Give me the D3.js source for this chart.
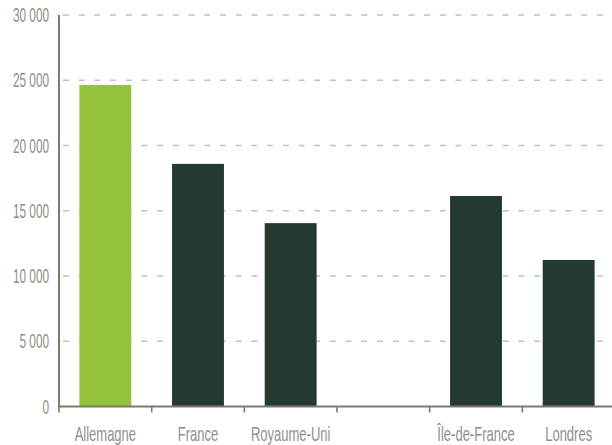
<!DOCTYPE html>
<html>
<head>
<meta charset="utf-8">
<script src="https://cdn.jsdelivr.net/npm/d3@7"></script>
<style>
    body { margin: 0; background: #fff; }
    svg { display: block; }
    .label { font-family: 'Liberation Sans', Arial, sans-serif; font-size: 20px; fill: #8f8f87; }
</style>
</head>
<body>
<svg id="Chart" width="612" height="445"></svg>
<script>
var categories = ['Allemagne', 'France', 'Royaume-Uni', '', 'Île-de-France', 'Londres'];
var values = [24640, 18590, 14050, null, 16130, 11230];
var highlight = ['Allemagne'];
var yTicks = [0, 5000, 10000, 15000, 20000, 25000, 30000];

function drawChart() {
    var svg = d3.select('#Chart');
    var left = 59;
    var right = 615;
    var plotTop = 15;
    var bottom = 406.5;
    var squeezeX = 0.65;
    var squeezeY = 0.59;

    var xScale = d3.scaleBand()
        .domain(d3.range(categories.length))
        .range([left, right]);
    var yScale = d3.scaleLinear()
        .domain([0, 30000])
        .range([bottom, plotTop]);
    var barWidth = xScale.bandwidth() * 0.56;
    var fmt = function (d) {
        return d3.format(',')(d).replace(/,/g, ' ');
    };

    // grid
    svg.append('g')
        .selectAll('line')
        .data(yTicks.filter(function (d) { return d > 0; }))
        .enter()
        .append('line')
        .attr('x1', left + 1)
        .attr('x2', 612)
        .attr('y1', function (d) { return yScale(d); })
        .attr('y2', function (d) { return yScale(d); })
        .attr('stroke', '#c2c2bb')
        .attr('stroke-width', 1.6)
        .attr('stroke-dasharray', '6,9.7')
        .attr('stroke-dashoffset', -3);

    // bars
    svg.append('g')
        .selectAll('rect')
        .data(values.map(function (v, i) { return { v: v, i: i }; })
            .filter(function (d) { return d.v !== null; }))
        .enter()
        .append('rect')
        .attr('x', function (d) { return xScale(d.i) + (xScale.bandwidth() - barWidth) / 2; })
        .attr('y', function (d) { return yScale(d.v); })
        .attr('width', barWidth)
        .attr('height', function (d) { return yScale(0) - yScale(d.v); })
        .attr('fill', function (d) {
            return highlight.indexOf(categories[d.i]) > -1 ? '#95c23b' : '#243a2f';
        });

    // axes
    var axisColor = '#7b7b70';
    svg.append('line')
        .attr('x1', left).attr('x2', left)
        .attr('y1', plotTop).attr('y2', bottom + 1)
        .attr('stroke', axisColor).attr('stroke-width', 2);
    svg.append('line')
        .attr('x1', left - 1).attr('x2', 612)
        .attr('y1', bottom).attr('y2', bottom)
        .attr('stroke', axisColor).attr('stroke-width', 2);
    svg.append('g')
        .selectAll('line')
        .data(d3.range(categories.length))
        .enter()
        .append('line')
        .attr('x1', function (d) { return xScale(d); })
        .attr('x2', function (d) { return xScale(d); })
        .attr('y1', bottom)
        .attr('y2', bottom + 6)
        .attr('stroke', axisColor)
        .attr('stroke-width', 1.6);

    // y labels
    svg.append('g')
        .selectAll('text')
        .data(yTicks)
        .enter()
        .append('text')
        .attr('class', 'label')
        .attr('text-anchor', 'end')
        .attr('transform', function (d) {
            return 'translate(49,' + (yScale(d) + 7) + ') scale(' + squeezeY + ',1)';
        })
        .text(fmt);

    // x labels
    svg.append('g')
        .selectAll('text')
        .data(categories)
        .enter()
        .append('text')
        .attr('class', 'label')
        .attr('text-anchor', 'middle')
        .attr('transform', function (d, i) {
            return 'translate(' + (xScale(i) + xScale.bandwidth() / 2) + ',441) scale(' + squeezeX + ',1)';
        })
        .text(function (d) { return d; });
}

drawChart();
</script>
</body>
</html>
